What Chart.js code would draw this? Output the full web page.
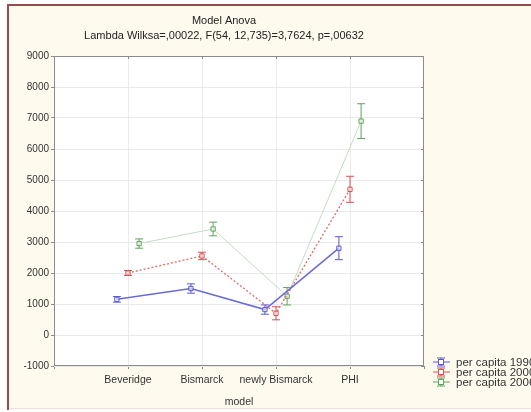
<!DOCTYPE html>
<html>
<head>
<meta charset="utf-8">
<script src="https://cdn.jsdelivr.net/npm/chart.js@4/dist/chart.umd.min.js"></script>
<style>
  html,body{margin:0;padding:0;background:#fff;}
  #wrap{width:531px;height:412px;}
</style>
</head>
<body>
<div id="wrap"><canvas id="c" width="531" height="412"></canvas></div>
<script>
// --- data ---
const models = ['Beveridge', 'Bismarck', 'newly Bismarck', 'PHI'];
const seriesNames = ['per capita 1990', 'per capita 2000', 'per capita 2006'];
const pc1990 = [1150, 1500, 820, 2800];
const err1990 = [90, 150, 150, 370];
const pc2000 = [2000, 2550, 700, 4700];
const err2000 = [80, 120, 210, 420];
const pc2006 = [2950, 3420, 1250, 6900];
const err2006 = [150, 220, 280, 560];
const yTicks = [-1000, 0, 1000, 2000, 3000, 4000, 5000, 6000, 7000, 8000, 9000];

const FONT = '"Liberation Sans", Arial, sans-serif';
const dodge = [-0.15, 0, 0.15];
const cols = [
  {line:'#6a6ad6', pt:'#5a5ad0', dash:[], w:1.5},
  {line:'#e06a6a', pt:'#d85050', dash:[2,2], w:1.3},
  {line:'#c4dcc4', pt:'#5ea35e', dash:[], w:1}
];
const vals = [pc1990, pc2000, pc2006], errs = [err1990, err2000, err2006];

const datasets = vals.map((v, k) => ({
  label: seriesNames[k],
  data: v.map((y, i) => ({x: i + 1 + dodge[k], y})),
  errs: errs[k],
  borderColor: cols[k].line,
  borderWidth: cols[k].w,
  borderDash: cols[k].dash,
  pointStyle: 'rect',
  pointRadius: 3,
  pointBorderWidth: 1,
  pointBorderColor: cols[k].pt,
  pointBackgroundColor: 'rgba(255,255,255,0.6)',
  tension: 0
}));

// frame, plot box, titles, legend
const frame = {
  id: 'frame',
  beforeDraw(ch) {
    const c = ch.ctx, a = ch.chartArea;
    c.save();
    c.fillStyle = '#fff'; c.fillRect(0, 0, ch.width, ch.height);
    c.fillStyle = '#fefaee'; c.fillRect(9, 6, ch.width, 402);
    c.fillStyle = '#fff'; c.fillRect(a.left, a.top, a.right - a.left, a.bottom - a.top);
    c.strokeStyle = '#9b4b4b'; c.lineWidth = 2;
    c.beginPath(); c.moveTo(8, 410); c.lineTo(8, 5); c.lineTo(ch.width, 5); c.stroke();
    c.strokeStyle = '#f3dede'; c.lineWidth = 1;
    c.beginPath(); c.moveTo(9, 408.5); c.lineTo(ch.width, 408.5); c.stroke();
    c.restore();
  },
  beforeDatasetsDraw(ch) {
    const c = ch.ctx, y = ch.scales.y;
    c.save();
    ch.data.datasets.forEach((ds, k) => {
      const meta = ch.getDatasetMeta(k);
      c.strokeStyle = cols[k].pt; c.lineWidth = 1;
      meta.data.forEach((p, i) => {
        const v = ds.data[i].y, e = ds.errs[i];
        const y1 = y.getPixelForValue(v + e), y2 = y.getPixelForValue(v - e);
        c.beginPath();
        c.moveTo(p.x, y1); c.lineTo(p.x, y2);
        c.moveTo(p.x - 4, y1); c.lineTo(p.x + 4, y1);
        c.moveTo(p.x - 4, y2); c.lineTo(p.x + 4, y2);
        c.stroke();
      });
    });
    c.restore();
  },
  afterDraw(ch) {
    const c = ch.ctx, a = ch.chartArea, xs = ch.scales.x, ys = ch.scales.y;
    c.save();
    c.strokeStyle = '#8c8c8c'; c.lineWidth = 1;
    c.strokeRect(a.left + 0.5, a.top + 0.5, a.right - a.left - 1, a.bottom - a.top - 1);
    c.beginPath();
    models.forEach((m, i) => { const px = Math.round(xs.getPixelForValue(i + 1)) + 0.5; c.moveTo(px, a.top); c.lineTo(px, a.top + 3); });
    yTicks.forEach(t => { const py = Math.round(ys.getPixelForValue(t)) + 0.5; c.moveTo(a.right, py); c.lineTo(a.right - 3, py); });
    c.stroke();
    // titles
    c.fillStyle = '#222'; c.textAlign = 'center'; c.textBaseline = 'middle';
    c.font = '11px ' + FONT;
    c.fillText('Model Anova', 224, 21);
    c.fillText('Lambda Wilksa=,00022, F(54, 12,735)=3,7624, p=,00632', 224, 36);
    // legend
    c.textAlign = 'left';
    c.font = '11.5px ' + FONT;
    seriesNames.forEach((n, k) => {
      const ly = 362 + k * 10, cx = 441;
      c.strokeStyle = cols[k].pt; c.setLineDash([]); c.lineWidth = 1;
      c.beginPath();
      c.moveTo(433, ly); c.lineTo(450, ly);
      c.moveTo(cx, ly - 4); c.lineTo(cx, ly + 4);
      c.moveTo(cx - 4, ly - 4); c.lineTo(cx + 4, ly - 4);
      c.moveTo(cx - 4, ly + 4); c.lineTo(cx + 4, ly + 4);
      c.stroke();
      c.fillStyle = '#fff'; c.fillRect(cx - 2.5, ly - 2.5, 5, 5);
      c.strokeRect(cx - 2.5, ly - 2.5, 5, 5);
      c.fillStyle = '#333';
      c.fillText(n, 456, ly + 0.5);
    });
    c.restore();
  }
};

new Chart(document.getElementById('c'), {
  type: 'line',
  data: {datasets},
  options: {
    responsive: false,
    animation: false,
    layout: {padding: {left: 0, right: 107, top: 56, bottom: 4}},
    plugins: {legend: {display: false}, tooltip: {enabled: false}},
    scales: {
      x: {
        type: 'linear', min: 0, max: 5,
        afterBuildTicks: s => { s.ticks = [0, 1, 2, 3, 4, 5].map(v => ({value: v})); },
        afterFit: s => { s.height = 42; },
        border: {display: false},
        grid: {
          color: ctx => (ctx.tick && ctx.tick.value > 0 && ctx.tick.value < 5) ? '#ececec' : 'rgba(0,0,0,0)',
          tickColor: '#8c8c8c', tickLength: 3
        },
        ticks: {
          color: '#333', font: {family: FONT, size: 10.5}, padding: 5, maxRotation: 0, autoSkip: false,
          callback: v => models[v - 1] || ''
        },
        title: {display: true, text: 'model', color: '#333', font: {family: FONT, size: 10.5}, padding: {top: 2, bottom: 0}}
      },
      y: {
        min: -1000, max: 9000,
        afterBuildTicks: s => { s.ticks = yTicks.map(v => ({value: v})); },
        afterFit: s => { s.width = 54; },
        border: {display: false},
        grid: {color: '#e9e9e9', tickColor: '#8c8c8c', tickLength: 3},
        ticks: {color: '#333', font: {family: FONT, size: 10}, padding: 2, callback: v => String(v)}
      }
    }
  },
  plugins: [frame]
});
</script>
</body>
</html>
